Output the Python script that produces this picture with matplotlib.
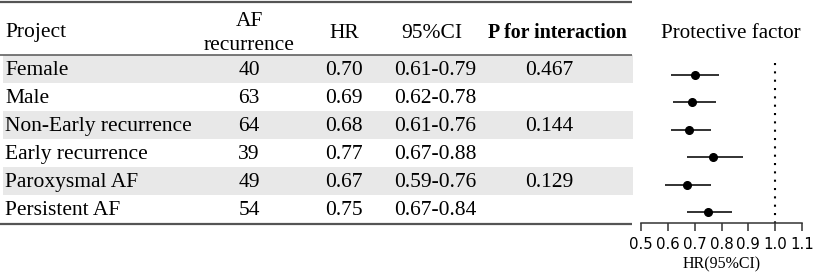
import matplotlib.pyplot as plt

# data
projects = ['Female', 'Male', 'Non-Early recurrence', 'Early recurrence',
            'Paroxysmal AF', 'Persistent AF']
af_rec = [40, 63, 64, 39, 49, 54]
hr = [0.70, 0.69, 0.68, 0.77, 0.67, 0.75]
ci_lo = [0.61, 0.62, 0.61, 0.67, 0.59, 0.67]
ci_hi = [0.79, 0.78, 0.76, 0.88, 0.76, 0.84]
p_int = ['0.467', '', '0.144', '', '0.129', '']
xticks = [0.5, 0.6, 0.7, 0.8, 0.9, 1.0, 1.1]

W, H = 813, 276
serif = 'Liberation Serif'
fs = 15.5

fig = plt.figure(figsize=(W / 100, H / 100), dpi=100)

# table drawn in pixel coordinates
ax = fig.add_axes([0, 0, 1, 1])
ax.set_xlim(0, W)
ax.set_ylim(H, 0)
ax.axis('off')

top = 55
rowh = 28
for i in range(len(projects)):
    y0 = top + i * rowh
    if i % 2 == 0:
        ax.fill_between([3, 633], y0, y0 + rowh, color='#e8e8e8', lw=0)
    yc = y0 + rowh / 2 + 1.5
    ax.text(5, yc, projects[i], family=serif, fontsize=fs, va='center', ha='left')
    ax.text(249, yc, str(af_rec[i]), family=serif, fontsize=fs, va='center', ha='center')
    ax.text(344, yc, '%.2f' % hr[i], family=serif, fontsize=fs, va='center', ha='center')
    ax.text(435, yc, '%.2f-%.2f' % (ci_lo[i], ci_hi[i]), family=serif, fontsize=fs,
            va='center', ha='center')
    ax.text(549, yc, p_int[i], family=serif, fontsize=fs, va='center', ha='center')

# header
ax.text(5, 33, 'Project', family=serif, fontsize=fs, va='center', ha='left')
ax.text(249, 22, 'AF', family=serif, fontsize=fs, va='center', ha='center')
ax.text(249, 46, 'recurrence', family=serif, fontsize=fs, va='center', ha='center')
ax.text(344, 33, 'HR', family=serif, fontsize=fs, va='center', ha='center')
ax.text(432, 33, '95%CI', family=serif, fontsize=fs, va='center', ha='center')
ax.text(557, 33, 'P for interaction', family=serif, fontsize=14.3, weight='bold',
        va='center', ha='center')
ax.text(731, 33, 'Protective factor', family=serif, fontsize=15.1, va='center', ha='center')

# table rules
ax.hlines(2, 0, 632, color='#555555', lw=1.6)
ax.hlines(top, 0, 632, color='#555555', lw=1.1)
ax.hlines(top + rowh * len(projects) + 1, 0, 632, color='#555555', lw=1.6)

# forest plot
x0, x1 = 641, 802
fax = fig.add_axes([x0 / W, (H - 223) / H, (x1 - x0) / W, 223 / H])
fax.set_xlim(0.5, 1.1)
fax.set_ylim(223, 0)
fax.patch.set_alpha(0)
ys = [75 + 27.4 * i for i in range(len(hr))]
fax.hlines(ys, ci_lo, ci_hi, color='#222222', lw=1.3)
fax.plot(hr, ys, 'o', color='black', ms=5.5)
fax.vlines(1.0, 63, 223, color='black', lw=1.5, linestyles=(0, (1, 3)))
for s in ['top', 'right', 'left']:
    fax.spines[s].set_visible(False)
fax.spines['bottom'].set_color('#333333')
fax.spines['bottom'].set_linewidth(1.1)
fax.set_yticks([])
fax.set_xticks(xticks)
fax.set_xticklabels(['%.1f' % t for t in xticks])
fax.tick_params(axis='x', direction='out', length=6, width=1.1, color='#333333',
                labelsize=10.8, pad=4)
fax.set_xlabel('HR(95%CI)', family=serif, fontsize=11.5, labelpad=3)

fig.savefig('out.png', dpi=100)
